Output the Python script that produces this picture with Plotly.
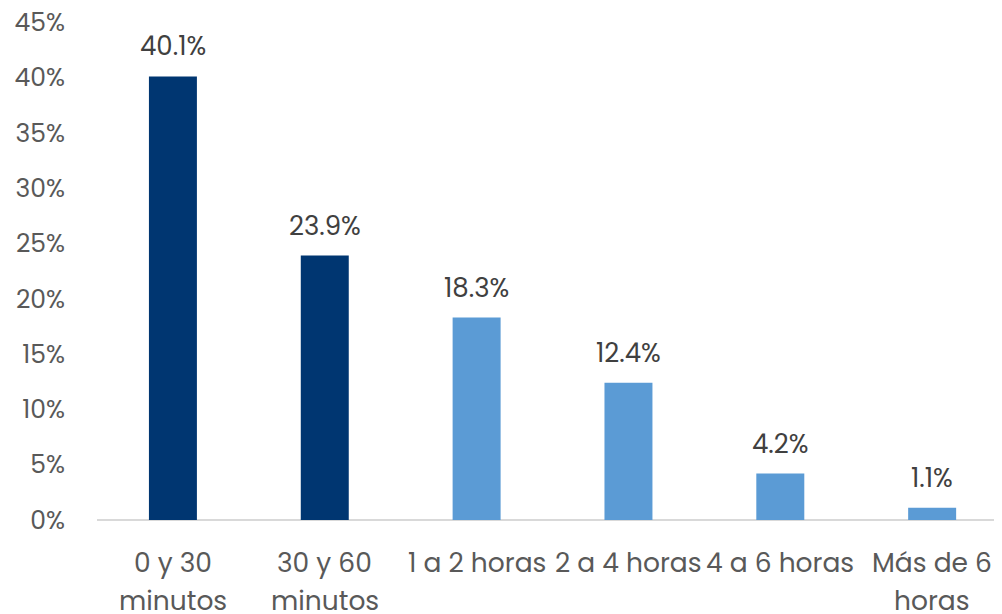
import plotly.graph_objects as go

categories = ["0 y 30 minutos", "30 y 60 minutos", "1 a 2 horas", "2 a 4 horas", "4 a 6 horas", "Más de 6 horas"]
label_line1 = ["0 y 30", "30 y 60", "1 a 2 horas", "2 a 4 horas", "4 a 6 horas", "Más de 6"]
label_line2 = ["minutos", "minutos", "", "", "", "horas"]
values = [0.401, 0.239, 0.183, 0.124, 0.042, 0.011]
bar_colors = ["#003671", "#003671", "#5B9BD5", "#5B9BD5", "#5B9BD5", "#5B9BD5"]
y_ticks = [0, 0.05, 0.10, 0.15, 0.20, 0.25, 0.30, 0.35, 0.40, 0.45]

FONT = "Poppins, 'Open Sans', Lato, sans-serif"
xs = list(range(len(categories)))

fig = go.Figure(go.Bar(
    x=xs, y=values, marker=dict(color=bar_colors, line=dict(width=0)),
    width=0.316, hoverinfo="skip",
))

ann = []
for i, v in enumerate(values):
    ann.append(dict(x=i, y=v, xref="x", yref="y", text=f"{v*100:.1f}%", showarrow=False,
                    yanchor="middle", yshift=30, font=dict(family=FONT, size=26, color="#404040")))
    ann.append(dict(x=i, y=0, xref="x", yref="paper", text=label_line1[i], showarrow=False,
                    yanchor="middle", yshift=-42, font=dict(family=FONT, size=26.5, color="#595959")))
    if label_line2[i]:
        ann.append(dict(x=i, y=0, xref="x", yref="paper", text=label_line2[i], showarrow=False,
                        yanchor="middle", yshift=-80, font=dict(family=FONT, size=26.5, color="#595959")))

fig.update_layout(
    width=994, height=606,
    margin=dict(l=89, r=0, t=14, b=94),
    paper_bgcolor="white", plot_bgcolor="white",
    showlegend=False,
    annotations=ann,
    xaxis=dict(range=[-0.5, 5.46], showticklabels=False, showgrid=False, zeroline=False,
               showline=False, ticks="", automargin=False),
    yaxis=dict(range=[0, 0.4502], tickvals=y_ticks, ticktext=[f"{t*100:.0f}%" for t in y_ticks],
               showgrid=False, zeroline=True, zerolinecolor="#D9D9D9", zerolinewidth=1.5,
               showline=False, ticks="", ticklabelstandoff=31, ticklabeloverflow="allow",
               automargin=False,
               tickfont=dict(family=FONT, size=25, color="#595959")),
)
fig.write_html("out.html")
